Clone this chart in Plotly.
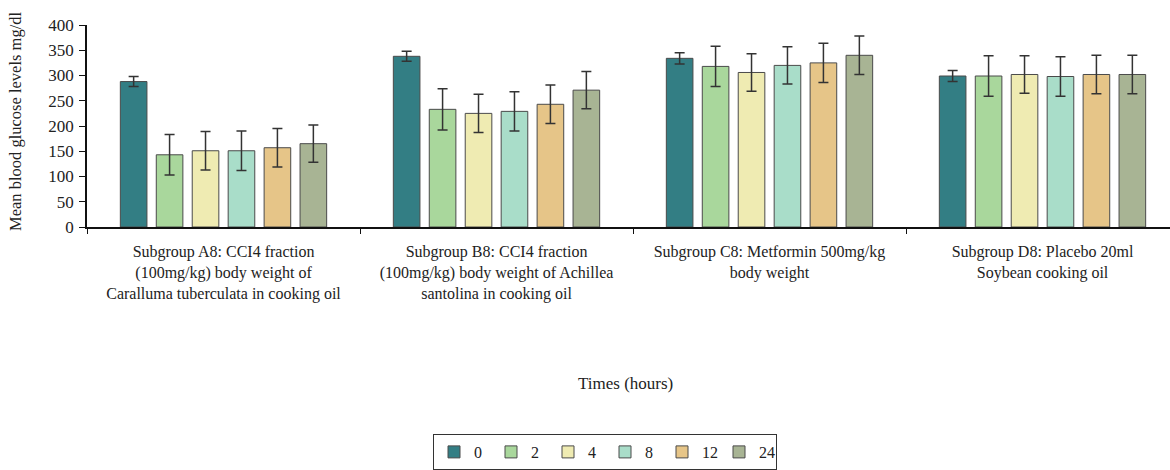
import plotly.graph_objects as go

categories = [
    "Subgroup A8: CCI4 fraction<br>(100mg/kg) body weight of<br>Caralluma tuberculata in cooking oil",
    "Subgroup B8: CCI4 fraction<br>(100mg/kg) body weight of Achillea<br>santolina in cooking oil",
    "Subgroup C8: Metformin 500mg/kg<br>body weight",
    "Subgroup D8: Placebo 20ml<br>Soybean cooking oil",
]
series_names = ["0", "2", "4", "8", "12", "24"]
means = {
    "0":  [288, 338, 334, 299],
    "2":  [143, 233, 318, 299],
    "4":  [151, 225, 306, 302],
    "8":  [151, 229, 320, 298],
    "12": [157, 243, 325, 302],
    "24": [165, 271, 340, 302],
}
errors = {
    "0":  [10, 10, 11, 11],
    "2":  [40, 41, 40, 40],
    "4":  [38, 38, 37, 37],
    "8":  [39, 39, 37, 39],
    "12": [38, 38, 39, 38],
    "24": [37, 37, 38, 38],
}
colors = {
    "0": "#337e84",
    "2": "#a9d79c",
    "4": "#efebb2",
    "8": "#a9ddc9",
    "12": "#e6c588",
    "24": "#a8b494",
}

serif = "Liberation Serif"
fig = go.Figure()
for s in series_names:
    fig.add_trace(go.Bar(
        x=categories, y=means[s], name=s,
        marker=dict(color=colors[s], line=dict(color="#4a4a4a", width=1)),
        error_y=dict(type="data", array=errors[s], color="#333333", thickness=1.5, width=5),
    ))

W, H = 1170, 470
left, top, bottom_px = 87, 25, 227
plot_h = bottom_px - top
fig.update_layout(
    width=W, height=H,
    margin=dict(l=left, r=0, t=top, b=H - bottom_px),
    barmode="group", bargap=0.21, bargroupgap=0.26,
    plot_bgcolor="white", paper_bgcolor="white",
    font=dict(family=serif, size=15, color="#222222"),
    showlegend=True,
    legend=dict(
        orientation="h", x=(605 - left) / (W - left), xanchor="center",
        y=(bottom_px - 452) / plot_h, yanchor="middle",
        bordercolor="#333333", borderwidth=1,
        font=dict(family=serif, size=16, color="#222222"),
        entrywidth=12, entrywidthmode="pixels", itemwidth=30,
        tracegroupgap=0,
    ),
    xaxis=dict(
        range=[-0.5, 3.5 - (1179 - 1170) / 273],
        showline=True, linecolor="#111111", linewidth=1.5,
        ticks="outside", tickson="boundaries", ticklen=5, tickcolor="#111111",
        tickfont=dict(family=serif, size=16, color="#222222"),
        ticklabelstandoff=9,
        showgrid=False, tickangle=0,
    ),
    yaxis=dict(
        range=[0, 400], tickvals=[0, 50, 100, 150, 200, 250, 300, 350, 400],
        showline=True, linecolor="#111111", linewidth=1.5,
        ticks="outside", ticklen=6, tickcolor="#111111",
        tickfont=dict(family=serif, size=17, color="#222222"),
        ticklabelstandoff=2,
        showgrid=False, zeroline=False,
    ),
    annotations=[
        dict(text="Times (hours)", xref="paper", yref="paper",
             x=(625 - left) / (W - left), y=(bottom_px - 383) / plot_h,
             xanchor="center", yanchor="middle", showarrow=False,
             font=dict(family=serif, size=17, color="#222222")),
        dict(text="Mean blood glucose levels mg/dl", xref="paper", yref="paper",
             x=-(left - 15) / (W - left), y=(bottom_px - 122) / plot_h, textangle=-90,
             xanchor="center", yanchor="middle", showarrow=False,
             font=dict(family=serif, size=16.5, color="#222222")),
    ],
)
fig.write_html("out.html")
